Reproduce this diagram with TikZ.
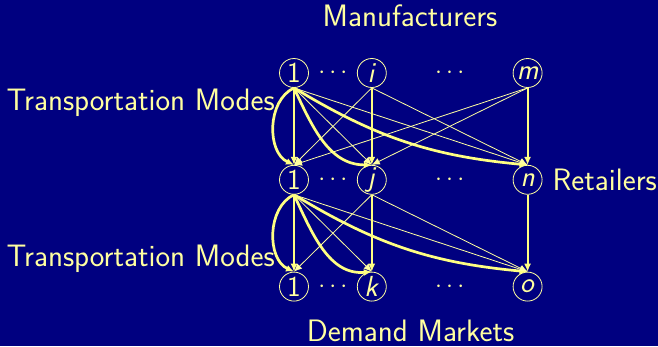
\documentclass[tikz,border=0pt]{standalone}
\usepackage{tikz}
\usetikzlibrary{arrows.meta,positioning}
\definecolor{navybg}{RGB}{0,0,128}
\definecolor{paleyel}{RGB}{255,255,160}
\definecolor{brightyel}{RGB}{255,255,130}
\tikzset{
	netnode/.style={circle, draw=paleyel, line width=0.8pt, minimum size=29pt, inner sep=0pt,
		text=paleyel, font=\fontsize{29}{34}\selectfont\sffamily},
	bigtext/.style={text=paleyel, font=\fontsize{31}{36}\selectfont\sffamily, inner sep=0pt},
	thinarr/.style={-{Latex[length=8pt,width=7pt]}, draw=paleyel, line width=0.8pt},
	modearr/.style={thinarr, draw=brightyel, line width=2pt},
	bendarr/.style={thinarr, draw=brightyel, line width=2.7pt}
}

\begin{document}
\begin{tikzpicture}[x=1pt, y=1pt, node distance=77pt and 48pt]
			\useasboundingbox (0,0) rectangle (658,-346);
			\fill[navybg] (0,0) rectangle (658,-346);
			% manufacturers
			\node[netnode] (man1) at (294,-73) {1};
			\node[netnode, right=of man1] (mani) {\textit{i}};
			\node[netnode, right=126pt of mani] (manm) {\textit{m}};
			% retailers
			\node[netnode, below=of man1] (ret1) {1};
			\node[netnode, below=of mani] (retj) {\textit{j}};
			\node[netnode, below=of manm] (retn) {\textit{n}};
			% demand markets
			\node[netnode, below=of ret1] (dem1) {1};
			\node[netnode, below=of retj] (demk) {\textit{k}};
			\node[netnode, below=of retn] (demo) {\textit{o}};
			\path (man1) -- node[bigtext] {$\cdots$} (mani) -- node[bigtext] {$\cdots$} (manm);
			\path (ret1) -- node[bigtext] {$\cdots$} (retj) -- node[bigtext] {$\cdots$} (retn);
			\path (dem1) -- node[bigtext] {$\cdots$} (demk) -- node[bigtext] {$\cdots$} (demo);
			\node[bigtext, anchor=base] (mantext) at (410,-26.5) {Manufacturers};
			\node[bigtext, right=10pt of retn] (rettext) {Retailers};
			\node[bigtext, anchor=base] (demtext) at (410.5,-341) {Demand Markets};
			\node[bigtext, anchor=base east] (modetop) at (275,-110.5) {Transportation Modes};
			\node[bigtext, anchor=base east] (modebot) at (275,-266.5) {Transportation Modes};
			% first tier links
			\draw[modearr] (man1.south) -- (ret1.north);
			\draw[bendarr] (man1.south) to[bend right=65] (ret1.north);
			\draw[thinarr] (man1.south) -- (retj.north);
			\draw[bendarr] (man1.south) to[out=-65, in=180] (retj.north);
			\draw[thinarr] (man1.south) -- (retn.north);
			\draw[bendarr] (man1.south) to[bend right=13] (retn.north);
			\draw[thinarr] (mani.south) -- (ret1.north);
			\draw[modearr] (mani.south) -- (retj.north);
			\draw[thinarr] (mani.south) -- (retn.north);
			\draw[thinarr] (manm.south) -- (ret1.north);
			\draw[thinarr] (manm.south) -- (retj.north);
			\draw[modearr] (manm.south) -- (retn.north);
			% second tier links
			\draw[modearr] (ret1.south) -- (dem1.north);
			\draw[bendarr] (ret1.south) to[bend right=65] (dem1.north);
			\draw[thinarr] (ret1.south) -- (demk.north);
			\draw[bendarr] (ret1.south) to[out=-65, in=185] (demk.north);
			\draw[thinarr] (ret1.south) -- (demo.north);
			\draw[bendarr] (ret1.south) to[bend right=13] (demo.north);
			\draw[thinarr] (retj.south) -- (dem1.north);
			\draw[modearr] (retj.south) -- (demk.north);
			\draw[thinarr] (retj.south) -- (demo.north);
			\draw[modearr] (retn.south) -- (demo.north);
		\end{tikzpicture}
\end{document}
